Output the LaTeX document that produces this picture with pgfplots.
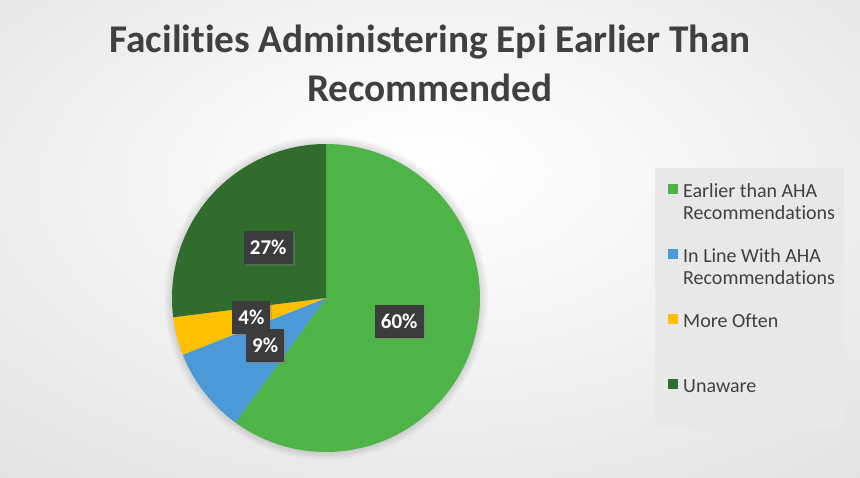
\documentclass[border=0pt]{standalone}
\usepackage{fontspec}
\setmainfont{Carlito}[Ligatures=NoCommon]
\usepackage{pgfplots}
\usepackage{pgfplotstable}
\pgfplotsset{compat=1.18}
\usetikzlibrary{shadows}

\definecolor{cEarly}{HTML}{4EB447}
\definecolor{cInline}{HTML}{4C99D7}
\definecolor{cMore}{HTML}{FFC000}
\definecolor{cUnaware}{HTML}{2F6C2E}
\definecolor{txt}{HTML}{404040}
\definecolor{lbl}{HTML}{3C3C3C}
\definecolor{legbg}{HTML}{E8E8E8}

\pgfdeclareradialshading{bg}{\pgfpoint{0bp}{8bp}}{%
  color(0bp)=(white); color(12bp)=(white!97!black);
  color(50bp)=(white!85!black); color(72bp)=(white!79!black)}

\tikzset{pielabel/.style={
    fill=lbl, text=white,
    font=\fontsize{21}{24}\selectfont\bfseries,
    inner xsep=6pt, minimum height=33pt,
    drop shadow={opacity=0.35, shadow xshift=2pt, shadow yshift=-2pt}}}

% every legend text takes two lines of room, so the rows are evenly spaced
\newcommand\legtext[1]{\parbox[t][44pt][t]{160pt}{\raggedright\strut#1\strut}}

% share of facilities, per cent
\pgfplotstableread{
label   value colour
Earlier 60    cEarly
InLine  9     cInline
More    4     cMore
Unaware 27    cUnaware
}\piedata

\begin{document}
\begin{tikzpicture}[x=1pt,y=1pt]
\shade[shading=bg] (0,0) rectangle (860,478);
% soft halo round the pie
\foreach \k in {1,...,6}
  \fill[black, opacity=0.02] (326,180) circle ({154+1.3*\k});

\begin{axis}[
    at={(0,0)}, anchor=south west,
    width=860pt, height=478pt, scale only axis,
    xmin=0, xmax=860, ymin=0, ymax=478,
    y dir=reverse, hide axis, clip=false,
    legend image code/.code={\fill[#1] (0pt,4pt) rectangle (9.5pt,13.5pt);
                             \path (0pt,0pt);},
    legend style={
        at={(axis cs:655,170.5)}, anchor=north west,
        draw=none, fill=none,
        inner xsep=13pt, inner ysep=11pt,
        row sep=21pt, column sep=5.5pt,
        nodes={inner sep=0pt, anchor=base west, text=txt,
               text height=16pt, text depth=28pt},
        font=\fontsize{20}{22}\selectfont},
    legend entries={
        {\legtext{Earlier than AHA\\Recommendations}},
        {\legtext{In Line With AHA\\Recommendations}},
        {\legtext{More Often}},
        {\legtext{Unaware}}},
]
% panel behind the legend
\fill[legbg] (axis cs:655,168) rectangle (axis cs:844,428);

\def\cum{0}
\pgfplotsforeachungrouped \i in {0,...,3}{%
  \pgfplotstablegetelem{\i}{value}\of\piedata \let\v\pgfplotsretval
  \pgfplotstablegetelem{\i}{colour}\of\piedata \let\c\pgfplotsretval
  \pgfmathsetmacro\a{90-3.6*\cum}
  \pgfmathsetmacro\b{90-3.6*(\cum+\v)}
  \edef\cmd{\noexpand\addplot[fill=\c, draw=none, domain=\b:\a, samples=90]
    ({326+154*cos(x)},{298-154*sin(x)}) -- (axis cs:326,298) -- cycle;}%
  \cmd
  \pgfmathsetmacro\cum{\cum+\v}%
}

% data labels, last slice first so that 9% lies over 4%
\def\cum{100}
\pgfplotsforeachungrouped \i in {3,2,1,0}{%
  \pgfplotstablegetelem{\i}{value}\of\piedata \let\v\pgfplotsretval
  \pgfmathsetmacro\m{90-3.6*(\cum-\v/2)}
  \pgfmathsetmacro\lx{326+77*cos(\m)}
  \pgfmathsetmacro\ly{298-77*sin(\m)}
  \edef\cmd{\noexpand\node[pielabel] at (axis cs:\lx,\ly) {\v\noexpand\%};}%
  \cmd
  \pgfmathsetmacro\cum{\cum-\v}%
}

\node[font=\fontsize{39.3}{49}\selectfont\bfseries, text=txt, anchor=base]
  at (axis cs:430,53) {Facilities Administering Epi Earlier Than};
\node[font=\fontsize{39.3}{49}\selectfont\bfseries, text=txt, anchor=base]
  at (axis cs:430,102) {Recommended};
\end{axis}
\end{tikzpicture}
\end{document}
